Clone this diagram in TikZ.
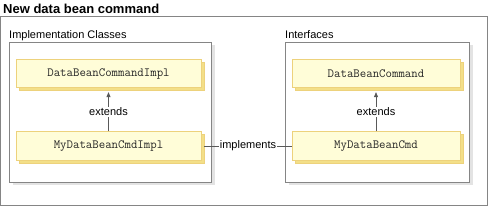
\documentclass[tikz,border=0pt]{standalone}
\usepackage{fontspec}
\setmainfont{Liberation Sans}
\usetikzlibrary{shadows,calc,arrows.meta}
\definecolor{boxfill}{HTML}{FFFDD8}
\definecolor{boxline}{HTML}{EDD27C}
\definecolor{boxshadow}{HTML}{F3DF88}
\definecolor{grpline}{HTML}{858585}
\definecolor{grpshadow}{HTML}{E3E3E3}
\tikzset{
  classbox/.style={draw=boxline, fill=boxfill, line width=0.8pt,
    minimum width=185, minimum height=28.5, inner sep=0pt,
    font=\ttfamily\fontsize{12.5}{14}\selectfont, text=black!85,
    drop shadow={shadow xshift=3, shadow yshift=3, fill=boxshadow, draw=boxline, opacity=1}},
  grpbox/.style={draw=grpline, fill=white, line width=0.9pt, inner sep=0pt,
    minimum height=140,
    drop shadow={shadow xshift=4, shadow yshift=3, fill=grpshadow, opacity=1}},
  lbl/.style={font=\fontsize{11}{13}\selectfont, inner sep=1pt, fill=white},
  conn/.style={draw=black!65, line width=0.7pt},
}
\begin{document}
\begin{tikzpicture}[x=1pt,y=-1pt]
\useasboundingbox (0,0) rectangle (492,210);
\node[draw=grpline, line width=0.9pt, minimum width=486.5, minimum height=189, inner sep=0pt] (outer) at (243.75,110.5) {};
\node[anchor=base west, inner sep=0pt, font=\bfseries\fontsize{13}{15}\selectfont] (title) at (3,13) {New data bean command};

\node[grpbox, minimum width=202] (lgrp) at (110,112) {};
\node[grpbox, minimum width=184] (rgrp) at (377,112) {};
\node[anchor=base west, inner sep=0pt, font=\fontsize{11}{13}\selectfont] (lgrptitle) at (9,38) {Implementation Classes};
\node[anchor=base west, inner sep=0pt, font=\fontsize{11}{13}\selectfont] (rgrptitle) at (285,38) {Interfaces};

\node[classbox] (l1) at (108.5,73.5) {DataBeanCommandImpl};
\node[classbox] (l2) at (108.5,146) {MyDataBeanCmdImpl};
\node[classbox, minimum width=168] (r1) at (376,73.5) {DataBeanCommand};
\node[classbox, minimum width=168] (r2) at (376,146) {MyDataBeanCmd};

\draw[conn, -{Triangle[length=5pt,width=4pt]}] (l2.north) -- node[lbl, text=black] {extends} ($(l1.south)+(0,4)$);
\draw[conn, -{Triangle[length=5pt,width=4pt]}] (r2.north) -- node[lbl, text=black] {extends} ($(r1.south)+(0,4)$);
\draw[conn] ($(l2.east)+(3,0)$) -- node[lbl, text=black] {implements} (r2.west);
\end{tikzpicture}
\end{document}
